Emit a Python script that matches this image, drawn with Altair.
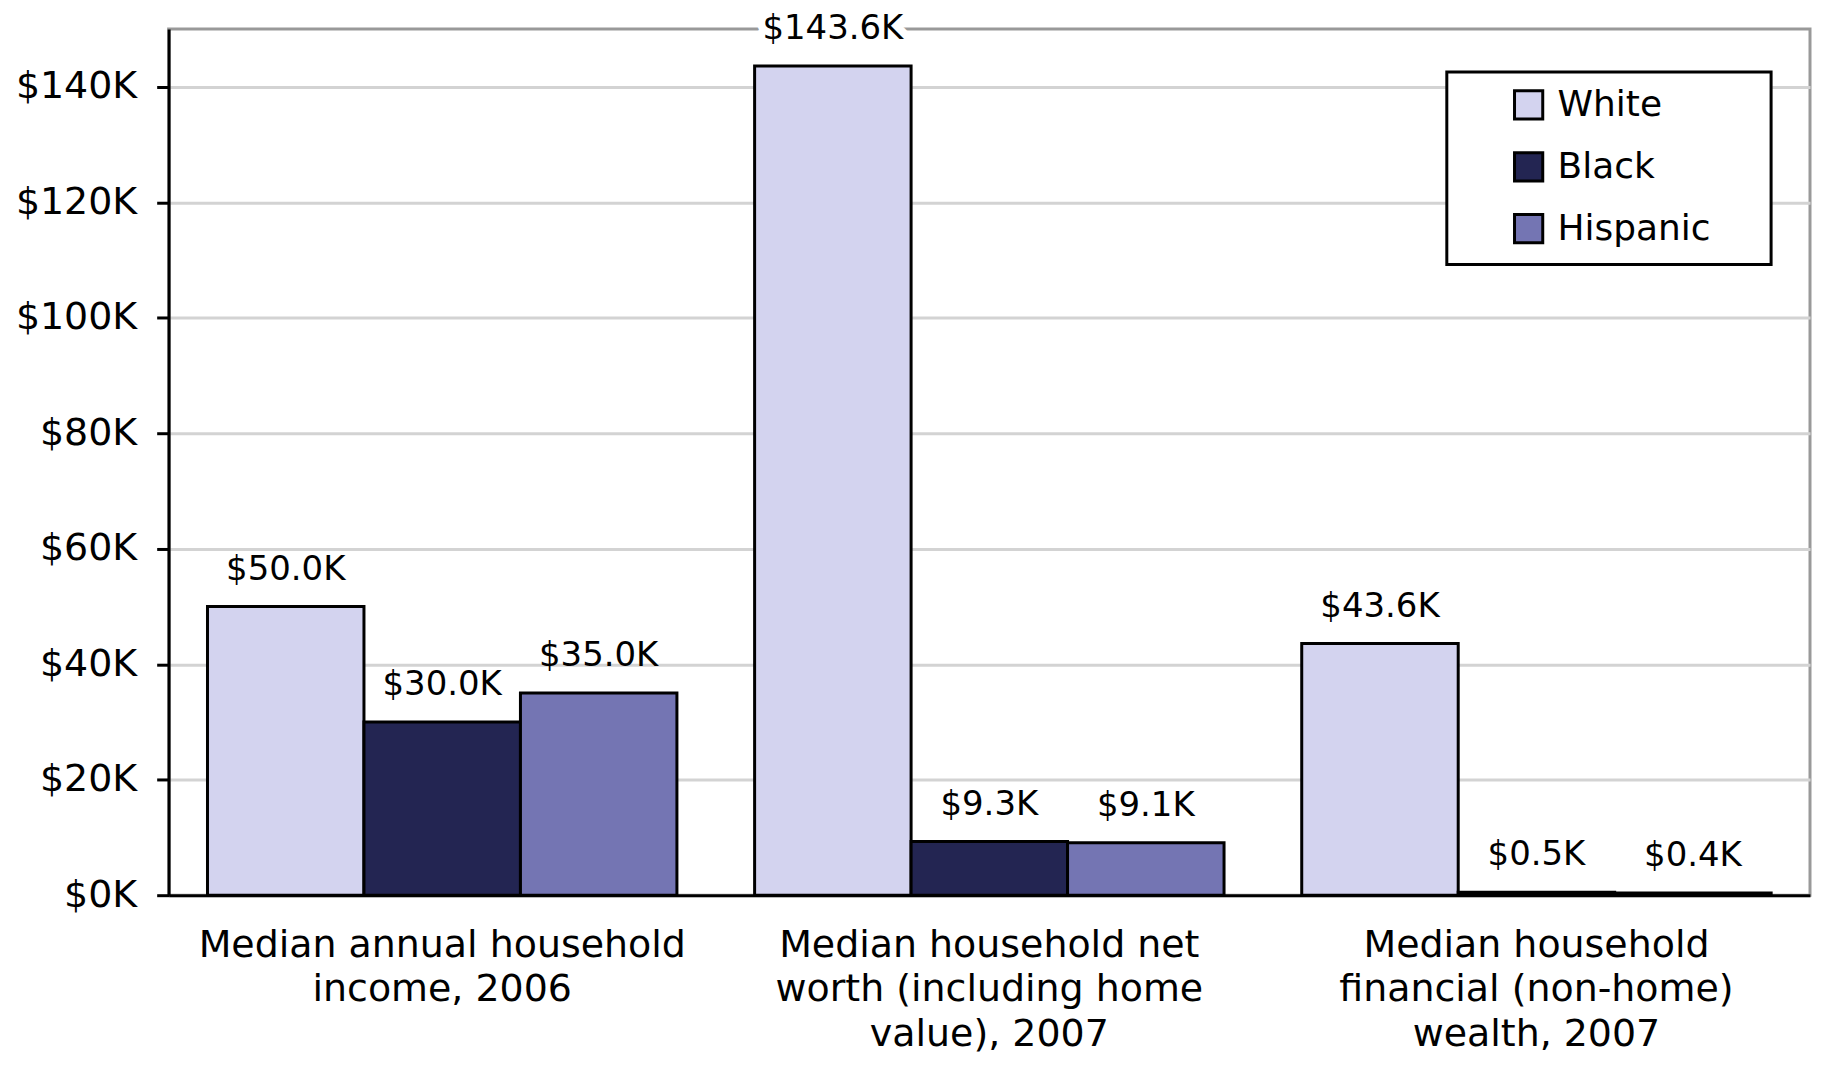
import altair as alt
import pandas as pd

# ---- data (values in thousands of dollars) ----
categories = [
    "Median annual household|income, 2006",
    "Median household net|worth (including home|value), 2007",
    "Median household|financial (non-home)|wealth, 2007",
]
groups = ["White", "Black", "Hispanic"]
white = [50.0, 143.6, 43.6]
black = [30.0, 9.3, 0.5]
hispanic = [35.0, 9.1, 0.4]
colors = ["#D3D3EF", "#232552", "#7475B3"]
y_ticks = [0, 20, 40, 60, 80, 100, 120, 140]

rows = []
for i, c in enumerate(categories):
    for g, vals in zip(groups, [white, black, hispanic]):
        rows.append({"metric": c, "group": g, "value": vals[i]})
df = pd.DataFrame(rows)

FONT = "DejaVu Sans"

x = alt.X(
    "metric:N",
    sort=categories,
    scale=alt.Scale(paddingInner=0.142, paddingOuter=0.071),
    axis=alt.Axis(
        title=None, labelAngle=0, labelExpr="split(datum.label, '|')",
        labelFontSize=38, labelLineHeight=45, labelPadding=31, ticks=False,
        domainColor="black", domainWidth=3, labelColor="black", labelFont=FONT,
        grid=False, labelLimit=0, labelBaseline="top",
    ),
)
xoff = alt.XOffset("group:N", sort=groups,
                   scale=alt.Scale(paddingInner=0, paddingOuter=0))
y = alt.Y(
    "value:Q",
    scale=alt.Scale(domain=[0, 150], nice=False, zero=True),
    axis=alt.Axis(
        title=None, values=y_ticks, labelExpr="'$' + datum.value + 'K'",
        labelFontSize=38, labelFont=FONT, labelColor="black", labelPadding=20,
        tickSize=12, tickWidth=3, tickColor="black", domainColor="black",
        domainWidth=3, gridColor="#D3D3D3", gridWidth=3,
    ),
)
color = alt.Color(
    "group:N", sort=groups,
    scale=alt.Scale(domain=groups, range=colors),
    legend=alt.Legend(
        title=" ", titleOrient="right", titlePadding=46, titleFontSize=8,
        orient="none", legendX=1281, legendY=43,
        fillColor="white", strokeColor="black", padding=15,
        symbolType="square", symbolSize=800, symbolStrokeColor="black",
        symbolStrokeWidth=3, labelFontSize=36, labelFont=FONT,
        labelColor="black", rowPadding=20, symbolOffset=49, labelOffset=11,
        cornerRadius=0,
    ),
)

base = alt.Chart(df).transform_calculate(
    label="'$' + format(datum.value, '.1f') + 'K'"
)

bars = base.mark_bar(stroke="black", strokeWidth=3).encode(
    x=x, xOffset=xoff, y=y, color=color
)

halo = base.transform_filter("datum.value > 140").mark_text(
    dy=-27, baseline="alphabetic", fontSize=34, font=FONT,
    fill="white", stroke="white", strokeWidth=16, strokeJoin="round",
).encode(x=x, xOffset=xoff, y=y, text="label:N")

labels = base.mark_text(
    dy=-27, baseline="alphabetic", fontSize=34, font=FONT, color="black"
).encode(x=x, xOffset=xoff, y=y, text="label:N")

chart = (
    alt.layer(bars, halo, labels)
    .properties(
        width=1645, height=868,
        autosize=alt.AutoSizeParams(type="none"),
        padding={"left": 161, "top": 20, "right": 3, "bottom": 160},
        background="white",
    )
    .configure_view(stroke="#999999", strokeWidth=3)
    .configure_legend(strokeWidth=3)
)

chart.save("out.html", embed_options={"renderer": "svg", "actions": False})
